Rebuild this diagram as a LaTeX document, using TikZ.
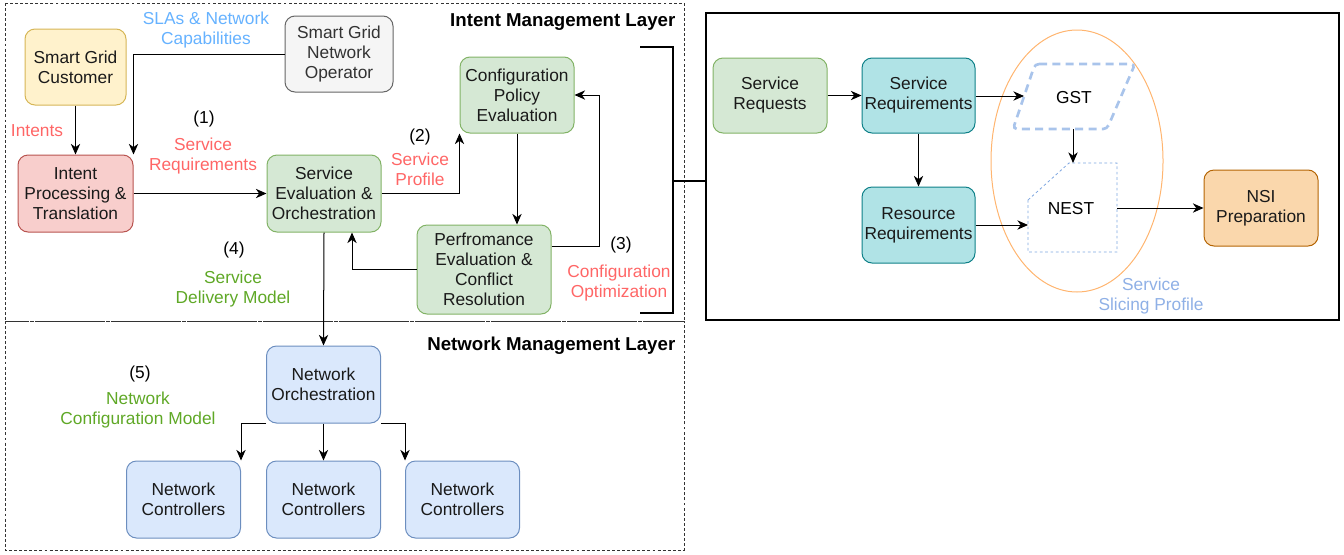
\documentclass[tikz,border=0pt]{standalone}
\usepackage{fontspec}
\setmainfont{Liberation Sans}
\usetikzlibrary{arrows.meta}

\definecolor{yelfill}{HTML}{FFF2CC}
\definecolor{yelline}{HTML}{D6B656}
\definecolor{grayfill}{HTML}{F5F5F5}
\definecolor{grayline}{HTML}{666666}
\definecolor{redfill}{HTML}{F8CECC}
\definecolor{redline}{HTML}{B85450}
\definecolor{grnfill}{HTML}{D5E8D4}
\definecolor{grnline}{HTML}{82B366}
\definecolor{blufill}{HTML}{DAE8FC}
\definecolor{bluline}{HTML}{6C8EBF}
\definecolor{tealfill}{HTML}{B0E3E6}
\definecolor{tealline}{HTML}{0E8088}
\definecolor{orgfill}{HTML}{FAD7AC}
\definecolor{orgline}{HTML}{B46504}
\definecolor{ellline}{HTML}{FFB570}
\definecolor{gstline}{HTML}{A9C4EB}
\definecolor{nestline}{HTML}{7EA6E0}
\definecolor{redtxt}{HTML}{FF6666}
\definecolor{blutxt}{HTML}{66B2FF}
\definecolor{grntxt}{HTML}{5FA826}
\definecolor{slicetxt}{HTML}{8FB0E6}
\definecolor{boxtxt}{HTML}{1A1A1A}

\tikzset{
  box/.style={draw, rounded corners=7.5pt, line width=0.75pt, align=center,
    inner sep=1pt, text=boxtxt, minimum width=114*0.75pt, minimum height=76*0.75pt},
  yelbox/.style={box, fill=yelfill, draw=yelline},
  graybox/.style={box, fill=grayfill, draw=grayline, text=black!80},
  redbox/.style={box, fill=redfill, draw=redline},
  grnbox/.style={box, fill=grnfill, draw=grnline},
  blubox/.style={box, fill=blufill, draw=bluline},
  tealbox/.style={box, fill=tealfill, draw=tealline},
  orgbox/.style={box, fill=orgfill, draw=orgline},
  lbl/.style={align=center, inner sep=0pt},
  conn/.style={-{Stealth[length=8pt,width=7pt,inset=2.5pt]}, line width=0.75pt},
  layer/.style={draw=black!80, line width=0.75pt, dash pattern=on 2.2pt off 1.6pt}
}

\begin{document}
\begin{tikzpicture}[x=0.75pt,y=-0.75pt,font=\fontsize{13}{15}\selectfont]
  \useasboundingbox (0,0) rectangle (1344,554);

  % layers
  \draw[layer] (5,3) rectangle (684,321);
  \draw[layer] (5,321) rectangle (684,550);
  \node[anchor=east, font=\fontsize{14}{16}\selectfont\bfseries] (iml) at (680,22) {Intent Management Layer};
  \node[anchor=east, font=\fontsize{14}{16}\selectfont\bfseries] (nml) at (680,346) {Network Management Layer};
  \draw[line width=0.8pt] (706,13) rectangle (1339,320);

  % intent management layer
  \node[yelbox, minimum width=101*0.75pt] (cust) at (75.5,67) {Smart Grid\\Customer};
  \node[graybox, minimum width=108*0.75pt] (oper) at (339,54) {Smart Grid\\Network\\Operator};
  \node[redbox, minimum width=115*0.75pt, minimum height=77*0.75pt] (ipt) at (75.5,193.5) {Intent\\Processing \&\\Translation};
  \node[grnbox, minimum height=77*0.75pt] (seo) at (324,193.5) {Service\\Evaluation \&\\Orchestration};
  \node[grnbox] (cpe) at (517,95) {Configuration\\Policy\\Evaluation};
  \node[grnbox, minimum width=134*0.75pt, minimum height=89*0.75pt] (pec) at (484,269.5) {Perfromance\\Evaluation \&\\Conflict\\Resolution};

  \node[lbl, text=blutxt] (slas) at (206,30) {SLAs \& Network\\Capabilities};
  \node[lbl, text=redtxt] (ints) at (37,131) {Intents};
  \node[lbl] (n1) at (204,119) {(1)};
  \node[lbl, text=redtxt] (sreqlbl) at (203,156) {Service\\Requirements};
  \node[lbl] (n2) at (420,137) {(2)};
  \node[lbl, text=redtxt] (sprof) at (420,169) {Service\\Profile};
  \node[lbl] (n3) at (621,245) {(3)};
  \node[lbl, text=redtxt] (copt) at (619,283) {Configuration\\Optimization};
  \node[lbl] (n4) at (234,250) {(4)};
  \node[lbl, text=grntxt] (sdm) at (233,289) {Service\\Delivery Model};

  \draw[conn] (cust) -- (ipt);
  \draw[conn] (oper.west) -| (ipt.north east);
  \draw[conn] (ipt) -- (seo);
  \draw[conn] (seo.east) -| (cpe.south west);
  \draw[conn] (cpe.south) -- (cpe.south |- pec.north);
  \draw[conn] ([yshift=17pt]pec.east) -- ++(48,0) |- (cpe.east);
  \draw[conn] (pec.west) -| ([xshift=21pt]seo.south);

  % network management layer
  \node[blubox, minimum height=77*0.75pt] (nor) at (323.5,384.5) {Network\\Orchestration};
  \foreach \cx/\nm in {183.5/nc1, 323.5/nc2, 462.5/nc3}
    \node[blubox, minimum height=77*0.75pt] (\nm) at (\cx,499.5) {Network\\Controllers};
  \node[lbl] (n5) at (140,374) {(5)};
  \node[lbl, text=grntxt] (ncm) at (138,410) {Network\\Configuration Model};

  \draw[conn] (seo.south) -- (nor.north);
  \draw[conn] (nor.south west) -| (nc1.north east);
  \draw[conn] (nor.south) -- (nc2.north);
  \draw[conn] (nor.south east) -| (nc3.north west);

  % bracket
  \draw[line width=2pt] (640,47) -- (673,47) -- (673,313) -- (640,313);
  \coordinate (brk) at (673,181);
  \coordinate (rbox) at (706,181);
  \draw[line width=2pt] (brk) -- (rbox);

  % slicing side
  \draw[ellline, line width=0.75pt] (1077,161) ellipse [x radius=86, y radius=131];
  \draw[gstline, line width=2pt, dash pattern=on 6pt off 4pt, rounded corners=3pt]
    (1035,64) -- (1135,64) -- (1107,129) -- (1013,129) -- cycle;
  \draw[nestline, line width=0.6pt, dash pattern=on 2pt off 2pt]
    (1028,200) -- (1069,163) -- (1117,163) -- (1117,252) -- (1028,252) -- cycle;
  \node[lbl] (gst) at (1074,98) {GST};
  \node[lbl] (nest) at (1071,209) {NEST};
  \coordinate (gstin) at (1024,96);
  \coordinate (gstout) at (1073,129);
  \coordinate (nestin) at (1028,225);
  \coordinate (nesttop) at (1073,163);
  \coordinate (nestout) at (1117,208);

  \node[grnbox, minimum height=75*0.75pt] (sreq) at (770,95.5) {Service\\Requests};
  \node[tealbox, minimum width=113*0.75pt, minimum height=75*0.75pt] (sreqm) at (918.5,95.5) {Service\\Requirements};
  \node[tealbox, minimum width=113*0.75pt] (rreq) at (918.5,225) {Resource\\Requirements};
  \node[orgbox] (nsi) at (1261,208) {NSI\\Preparation};
  \node[lbl, text=slicetxt] (ssp) at (1151,296) {Service\\Slicing Profile};

  \draw[conn] (sreq) -- (sreqm);
  \draw[conn] (sreqm.east |- gstin) -- (gstin);
  \draw[conn] (sreqm) -- (rreq);
  \draw[conn] (rreq.east) -- (nestin);
  \draw[conn] (gstout) -- (nesttop);
  \draw[conn] (nestout) -- (nsi.west);
\end{tikzpicture}
\end{document}
